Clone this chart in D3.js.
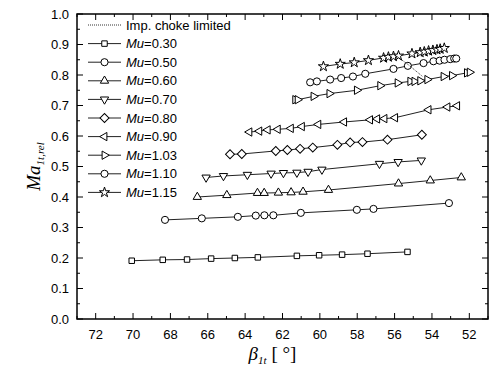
<!DOCTYPE html>
<html>
<head>
<meta charset="utf-8">
<script src="https://cdn.jsdelivr.net/npm/d3@7"></script>
<style>
  body { margin: 0; background: #fff; }
  text { font-family: "Liberation Sans", Arial, sans-serif; }
</style>
</head>
<body>
<div id="chart"></div>
<script>
// Mu = 0.30 .. 1.15, beta_1t [deg] vs Ma_1t,rel
const mu030X = [70.07, 68.41, 67.11, 65.82, 64.55, 63.32, 61.23, 60.04, 58.81, 57.45, 55.31];
const mu030Y = [0.191, 0.194, 0.195, 0.198, 0.200, 0.202, 0.207, 0.209, 0.211, 0.214, 0.220];

const mu050X = [68.29, 66.32, 64.39, 63.43, 62.97, 62.49, 61.02, 58.02, 57.13, 53.09];
const mu050Y = [0.325, 0.330, 0.335, 0.339, 0.340, 0.340, 0.348, 0.358, 0.361, 0.380];

const mu060X = [66.56, 64.98, 63.34, 62.98, 62.22, 61.54, 60.90, 59.54, 55.79, 54.09, 52.43];
const mu060Y = [0.400, 0.406, 0.413, 0.413, 0.414, 0.415, 0.417, 0.423, 0.444, 0.454, 0.464];

const mu070X = [66.09, 65.16, 63.88, 62.61, 61.95, 61.23, 60.63, 59.89, 56.81, 55.81, 54.57];
const mu070Y = [0.464, 0.469, 0.473, 0.477, 0.479, 0.480, 0.483, 0.490, 0.509, 0.515, 0.520];

const mu080X = [64.81, 64.18, 62.36, 61.74, 61.06, 60.38, 59.06, 58.38, 57.72, 56.38, 54.54];
const mu080Y = [0.540, 0.541, 0.551, 0.554, 0.558, 0.562, 0.571, 0.579, 0.580, 0.588, 0.604];

const mu090X = [63.77, 63.24, 62.79, 62.25, 61.55, 60.96, 60.08, 58.70, 57.31, 56.93, 56.54, 55.97, 54.18, 53.17, 52.65];
const mu090Y = [0.613, 0.616, 0.620, 0.622, 0.625, 0.631, 0.638, 0.646, 0.653, 0.656, 0.657, 0.660, 0.686, 0.695, 0.699];

const mu103X = [61.32, 61.19, 60.34, 59.49, 58.02, 56.77, 55.84, 55.16, 54.94, 54.63, 54.25, 53.38, 52.93, 52.13, 51.98];
const mu103Y = [0.719, 0.719, 0.730, 0.739, 0.750, 0.765, 0.774, 0.779, 0.779, 0.781, 0.785, 0.795, 0.798, 0.807, 0.809];

const mu110X = [60.52, 60.16, 59.45, 58.86, 58.23, 57.57, 56.06, 55.29, 54.45, 53.92, 53.59, 53.33, 53.02, 52.81, 52.70];
const mu110Y = [0.776, 0.779, 0.785, 0.790, 0.795, 0.804, 0.820, 0.830, 0.839, 0.845, 0.847, 0.850, 0.852, 0.854, 0.854];

const mu115X = [59.81, 58.91, 58.16, 57.40, 56.59, 56.33, 56.06, 55.79, 55.07, 54.63, 54.41, 54.18, 53.95, 53.73, 53.56, 53.34];
const mu115Y = [0.828, 0.836, 0.841, 0.848, 0.856, 0.859, 0.861, 0.863, 0.870, 0.874, 0.876, 0.879, 0.881, 0.883, 0.885, 0.888];

const chokeX = [55.95, 55.29, 54.50];
const chokeY = [0.864, 0.835, 0.795];

const muLabels = ['0.30', '0.50', '0.60', '0.70', '0.80', '0.90', '1.03', '1.10', '1.15'];
const xTicks = [72, 70, 68, 66, 64, 62, 60, 58, 56, 54, 52];
const yTicks = [0.0, 0.1, 0.2, 0.3, 0.4, 0.5, 0.6, 0.7, 0.8, 0.9, 1.0];

const series = [
  { x: mu030X, y: mu030Y, sym: 'square' },
  { x: mu050X, y: mu050Y, sym: 'circle' },
  { x: mu060X, y: mu060Y, sym: 'up' },
  { x: mu070X, y: mu070Y, sym: 'down' },
  { x: mu080X, y: mu080Y, sym: 'diamond' },
  { x: mu090X, y: mu090Y, sym: 'left' },
  { x: mu103X, y: mu103Y, sym: 'right' },
  { x: mu110X, y: mu110Y, sym: 'circle' },
  { x: mu115X, y: mu115Y, sym: 'star' }
];

const width = 489, height = 374;
const margin = { top: 14, right: 1, bottom: 55, left: 77 };
const w = width - margin.left - margin.right;
const h = height - margin.top - margin.bottom;

const svg = d3.select('#chart').append('svg')
  .attr('width', width)
  .attr('height', height);

const g = svg.append('g')
  .attr('transform', 'translate(' + margin.left + ',' + margin.top + ')');

const x = d3.scaleLinear().domain([73, 51]).range([0, w]);
const y = d3.scaleLinear().domain([0, 1.0]).range([h, 0]);

// marker shapes
function symbolPath(sym) {
  if (sym === 'square') return { d: d3.symbol(d3.symbolSquare, 30)(), r: 0 };
  if (sym === 'circle') return { d: d3.symbol(d3.symbolCircle, 40)(), r: 0 };
  if (sym === 'diamond') return { d: d3.symbol(d3.symbolSquare, 40)(), r: 45 };
  if (sym === 'star') return { d: d3.symbol(d3.symbolStar, 32)(), r: 0 };
  const tri = d3.symbol(d3.symbolTriangle, 30)();
  const rot = { up: 0, down: 180, left: -90, right: 90 }[sym];
  return { d: tri, r: rot };
}

// ticks (inside, on all four sides)
const minorX = d3.range(51, 74, 1);
const minorY = d3.range(0, 1.0001, 0.05);
const tickG = g.append('g').attr('stroke', '#000').attr('stroke-width', 1);

minorX.forEach(v => {
  const len = (v % 2 === 0) ? 6 : 3;
  tickG.append('line').attr('x1', x(v)).attr('x2', x(v)).attr('y1', h).attr('y2', h - len);
  tickG.append('line').attr('x1', x(v)).attr('x2', x(v)).attr('y1', 0).attr('y2', len);
});
minorY.forEach((v, i) => {
  const len = (i % 2 === 0) ? 6 : 3;
  tickG.append('line').attr('x1', 0).attr('x2', len).attr('y1', y(v)).attr('y2', y(v));
  tickG.append('line').attr('x1', w).attr('x2', w - len).attr('y1', y(v)).attr('y2', y(v));
});

g.append('rect')
  .attr('width', w)
  .attr('height', h)
  .attr('fill', 'none')
  .attr('stroke', '#000')
  .attr('stroke-width', 1.5);

// tick labels
g.selectAll('.xlab')
  .data(xTicks)
  .enter().append('text')
  .attr('class', 'xlab')
  .attr('x', d => x(d))
  .attr('y', h + 20)
  .attr('text-anchor', 'middle')
  .style('font-size', '13px')
  .text(d => d);

g.selectAll('.ylab')
  .data(yTicks)
  .enter().append('text')
  .attr('class', 'ylab')
  .attr('x', -8)
  .attr('y', d => y(d))
  .attr('dy', '.35em')
  .attr('text-anchor', 'end')
  .style('font-size', '13px')
  .text(d => d.toFixed(1));

// series
const line = d3.line()
  .x(d => x(d[0]))
  .y(d => y(d[1]));

series.forEach(s => {
  const pts = s.x.map((v, i) => [v, s.y[i]]);
  g.append('path')
    .attr('d', line(pts))
    .attr('fill', 'none')
    .attr('stroke', '#222')
    .attr('stroke-width', 1);
  const sp = symbolPath(s.sym);
  g.selectAll(null)
    .data(pts)
    .enter().append('path')
    .attr('d', sp.d)
    .attr('transform', d => 'translate(' + x(d[0]) + ',' + y(d[1]) + ') rotate(' + sp.r + ')')
    .attr('fill', '#fff')
    .attr('stroke', '#000')
    .attr('stroke-width', 1);
});

// choke line (dotted)
g.append('path')
  .attr('d', line(chokeX.map((v, i) => [v, chokeY[i]])))
  .attr('fill', 'none')
  .attr('stroke', '#000')
  .attr('stroke-width', 0.8)
  .attr('stroke-dasharray', '1,1');

// legend
const leg = svg.append('g').attr('transform', 'translate(88,0)');
const rowY = i => 25 + i * 18.6;

leg.append('line')
  .attr('x1', 0).attr('x2', 33)
  .attr('y1', rowY(0)).attr('y2', rowY(0))
  .attr('stroke', '#000')
  .attr('stroke-width', 0.8)
  .attr('stroke-dasharray', '1,1');
leg.append('text')
  .attr('x', 38)
  .attr('y', rowY(0))
  .attr('dy', '.35em')
  .style('font-size', '13px')
  .text('Imp. choke limited');

series.forEach((s, i) => {
  const yy = rowY(i + 1);
  leg.append('line')
    .attr('x1', 0).attr('x2', 33)
    .attr('y1', yy).attr('y2', yy)
    .attr('stroke', '#222')
    .attr('stroke-width', 1);
  const sp = symbolPath(s.sym);
  leg.append('path')
    .attr('d', sp.d)
    .attr('transform', 'translate(16.5,' + yy + ') rotate(' + sp.r + ')')
    .attr('fill', '#fff')
    .attr('stroke', '#000');
  const t = leg.append('text')
    .attr('x', 38)
    .attr('y', yy)
    .attr('dy', '.35em')
    .style('font-size', '13px');
  t.append('tspan').style('font-style', 'italic').text('Mu');
  t.append('tspan').text('=' + muLabels[i]);
});

// axis titles
const xt = svg.append('text')
  .attr('x', margin.left + w / 2 - 10)
  .attr('y', 360)
  .attr('text-anchor', 'middle')
  .style('font-family', '"Liberation Serif", "Times New Roman", serif')
  .style('font-size', '19px');
xt.append('tspan').style('font-style', 'italic').text('β');
xt.append('tspan').attr('dy', 4).style('font-size', '11px').style('font-style', 'italic').text('1t');
xt.append('tspan').attr('dy', -4).text(' [ °]');

const yt = svg.append('text')
  .attr('transform', 'translate(40,' + (margin.top + h / 2) + ') rotate(-90)')
  .attr('text-anchor', 'middle')
  .style('font-family', '"Liberation Serif", "Times New Roman", serif')
  .style('font-size', '19px');
yt.append('tspan').style('font-style', 'italic').text('Ma');
yt.append('tspan').attr('dy', 4).style('font-size', '11px').style('font-style', 'italic').text('1t,rel');
</script>
</body>
</html>
